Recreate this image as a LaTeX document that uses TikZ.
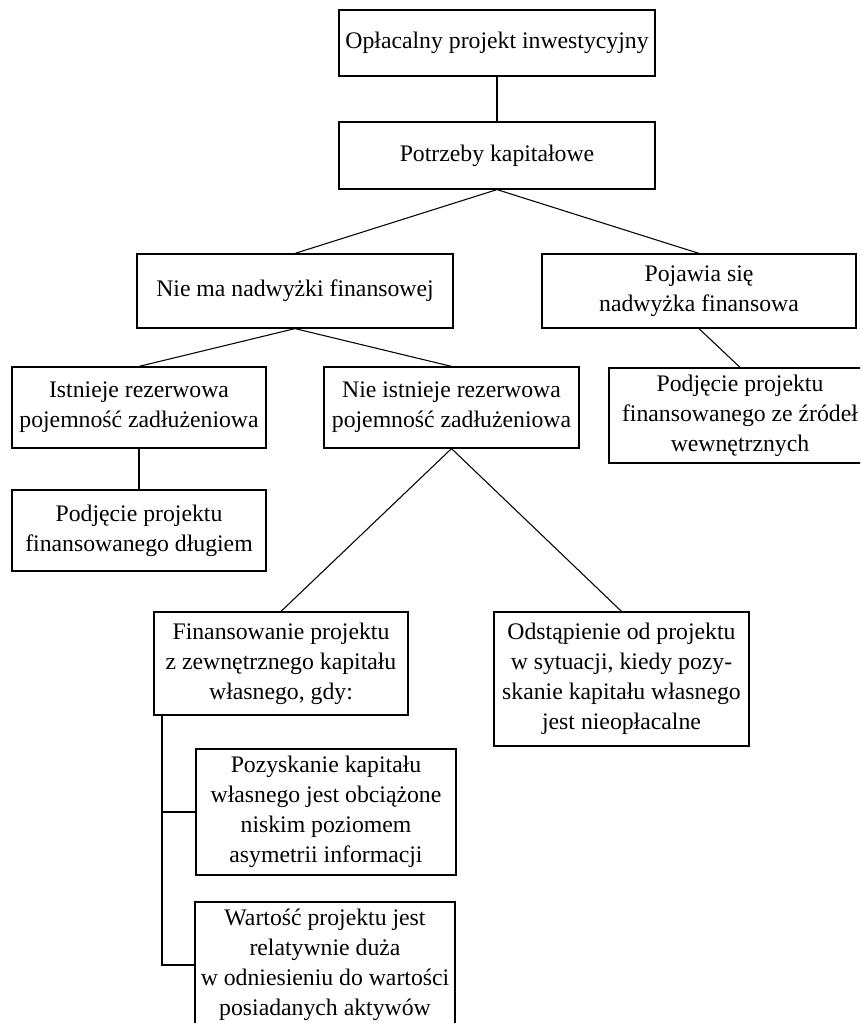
\documentclass[tikz,border=0pt]{standalone}
\usepackage{fontspec}
\setmainfont{Liberation Serif}
\begin{document}
\begin{tikzpicture}[x=0.75pt,y=-0.75pt,
  box/.style={draw, rectangle, inner sep=0pt, align=center, line width=0.9pt,
    font=\fontsize{17.8}{22.5}\selectfont},
  conn/.style={line width=0.8pt}]
\useasboundingbox (0,0) rectangle (860,1023);
\clip (0,0) rectangle (860,1023);
\node[box, minimum width=316*0.75pt, minimum height=66*0.75pt] (b1) at (497,43) {Opłacalny projekt inwestycyjny};
\node[box, minimum width=316*0.75pt, minimum height=67*0.75pt] (b2) at (497,155.5) {Potrzeby kapitałowe};
\node[box, minimum width=316*0.75pt, minimum height=74*0.75pt] (nm) at (295,291) {Nie ma nadwyżki finansowej};
\node[box, minimum width=314*0.75pt, minimum height=74*0.75pt] (pj) at (699,291) {Pojawia się\\nadwyżka finansowa};
\node[box, minimum width=254*0.75pt, minimum height=81*0.75pt] (ist) at (139,407.5) {Istnieje rezerwowa\\pojemność zadłużeniowa};
\node[box, minimum width=255*0.75pt, minimum height=81*0.75pt] (nist) at (451.5,407.5) {Nie istnieje rezerwowa\\pojemność zadłużeniowa};
\node[box, minimum width=254*0.75pt, minimum height=81*0.75pt] (pd) at (139,530.5) {Podjęcie projektu\\finansowanego długiem};
\node[box, minimum width=262*0.75pt, minimum height=95*0.75pt] (pz) at (740,415.5) {Podjęcie projektu\\finansowanego ze źródeł\\wewnętrznych};
\node[box, minimum width=254*0.75pt, minimum height=103*0.75pt] (fin) at (281,663.5) {Finansowanie projektu\\z zewnętrznego kapitału\\własnego, gdy:};
\node[box, minimum width=255*0.75pt, minimum height=134*0.75pt] (ods) at (621.5,679) {Odstąpienie od projektu\\w sytuacji, kiedy pozy-\\skanie kapitału własnego\\jest nieopłacalne};
\node[box, minimum width=260*0.75pt, minimum height=126*0.75pt] (poz) at (326,812) {Pozyskanie kapitału\\własnego jest obciążone\\niskim poziomem\\asymetrii informacji};
\node[box, minimum width=260*0.75pt, minimum height=126*0.75pt] (war) at (325,965) {Wartość projektu jest\\relatywnie duża\\w odniesieniu do wartości\\posiadanych aktywów};
\draw[conn] (b1.south) -- (b2.north);
\draw[conn] (b2.south) -- (nm.north);
\draw[conn] (b2.south) -- (pj.north);
\draw[conn] (nm.south) -- (ist.north);
\draw[conn] (nm.south) -- (nist.north);
\draw[conn] (ist.south) -- (pd.north);
\draw[conn] (pj.south) -- (pz.north);
\draw[conn] (nist.south) -- (fin.north);
\draw[conn] (nist.south) -- (ods.north);
\coordinate (bt) at (162,715);
\draw[conn] (bt) |- (war.west);
\draw[conn] (poz.west) -- (poz.west -| bt);
\end{tikzpicture}
\end{document}
